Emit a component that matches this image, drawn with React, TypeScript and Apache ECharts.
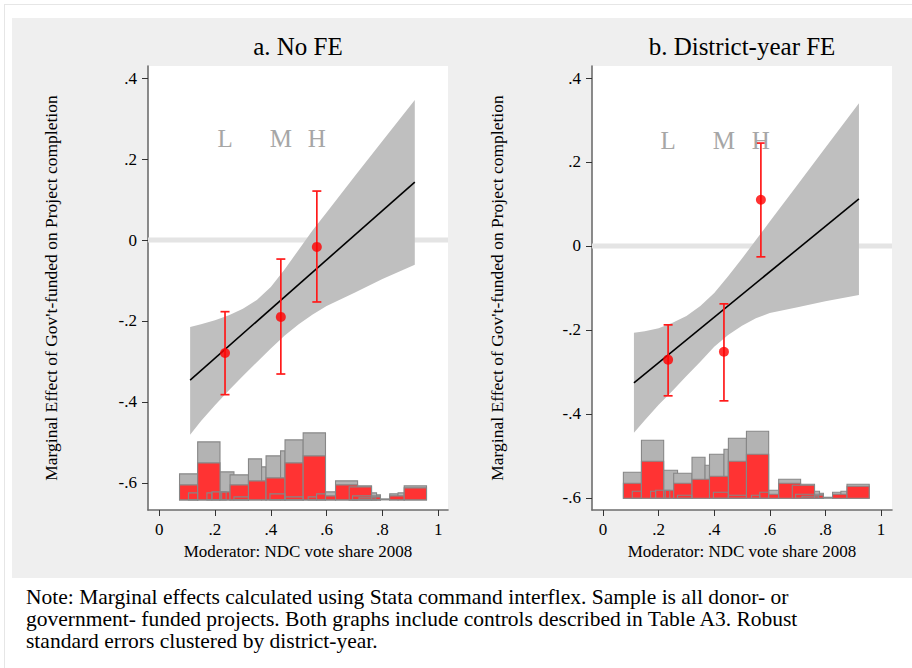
import React, { useEffect, useRef } from "react";
import * as echarts from "echarts";

const FONT = "Liberation Serif, Times New Roman, serif";

// ---- axis ticks ----
const xTicks = [0, 0.2, 0.4, 0.6, 0.8, 1];
const yTicks = [-0.6, -0.4, -0.2, 0, 0.2, 0.4];

// ---- bins L / M / H ----
const binLabels = ["L", "M", "H"];
const binLabelY = 0.252;

// ---- Panel a: No FE ----
const fitAX = [0.111, 0.916];
const fitAY = [-0.346, 0.143];
const bandAX = [0.111, 0.15, 0.2, 0.25, 0.3, 0.35, 0.4, 0.45, 0.5, 0.55, 0.6, 0.7, 0.8, 0.916];
const bandAHi = [-0.215, -0.208, -0.198, -0.186, -0.17, -0.148, -0.116, -0.072, -0.024, 0.024, 0.068, 0.157, 0.245, 0.346];
const bandALo = [-0.481, -0.447, -0.408, -0.371, -0.336, -0.302, -0.268, -0.236, -0.208, -0.184, -0.163, -0.13, -0.096, -0.061];
const binAX = [0.236, 0.436, 0.565];
const estA = [-0.279, -0.19, -0.017];
const ciLoA = [-0.382, -0.331, -0.153];
const ciHiA = [-0.177, -0.047, 0.121];

// ---- Panel b: District-year FE ----
const fitBX = [0.111, 0.921];
const fitBY = [-0.326, 0.112];
const bandBX = [0.111, 0.15, 0.2, 0.25, 0.3, 0.35, 0.4, 0.45, 0.5, 0.55, 0.6, 0.7, 0.8, 0.921];
const bandBHi = [-0.207, -0.203, -0.196, -0.183, -0.167, -0.143, -0.112, -0.072, -0.03, 0.014, 0.058, 0.146, 0.234, 0.34];
const bandBLo = [-0.445, -0.415, -0.378, -0.345, -0.31, -0.276, -0.24, -0.212, -0.19, -0.172, -0.16, -0.146, -0.132, -0.117];
const binBX = [0.234, 0.435, 0.568];
const estB = [-0.271, -0.252, 0.11];
const ciLoB = [-0.357, -0.369, -0.026];
const ciHiB = [-0.188, -0.138, 0.245];

// ---- Histogram of moderator (relative counts) ----
const histGrayLeft = [0.073, 0.138, 0.218, 0.254, 0.32, 0.367, 0.383, 0.435, 0.451, 0.516, 0.596, 0.632, 0.681, 0.761, 0.779, 0.793, 0.826, 0.856, 0.878];
const histGrayRight = [0.138, 0.218, 0.268, 0.32, 0.367, 0.383, 0.435, 0.451, 0.516, 0.596, 0.632, 0.711, 0.761, 0.779, 0.793, 0.826, 0.856, 0.878, 0.958];
const histGrayCount = [26, 58, 28, 25, 41, 33, 44, 49, 60, 67, 8, 19, 14, 7, 5, 1, 6, 7, 14];

const histRedLeft = [0.073, 0.138, 0.218, 0.254, 0.32, 0.383, 0.451, 0.516, 0.596, 0.632, 0.681, 0.761, 0.826, 0.878];
const histRedRight = [0.138, 0.218, 0.254, 0.32, 0.383, 0.451, 0.516, 0.596, 0.632, 0.711, 0.761, 0.793, 0.878, 0.958];
const histRedCount = [15, 37, 8, 15, 19, 22, 37, 44, 4, 15, 13, 3, 4, 12];

const histOutLeft = [0.105, 0.171, 0.189, 0.224, 0.268, 0.397, 0.451, 0.534, 0.564, 0.693, 0.716];
const histOutRight = [0.138, 0.189, 0.218, 0.24, 0.32, 0.451, 0.516, 0.564, 0.596, 0.793, 0.776];
const histOutCount = [7, 7, 8, 8, 3, 6, 3, 3, 6, 4, 2];

const noteLines = [
  "Note: Marginal effects calculated using Stata command interflex. Sample is all donor- or",
  "government- funded projects. Both graphs include controls described in Table A3. Robust",
  "standard errors clustered by district-year.",
];

const fmtTick = (v: number) => {
  const r = Math.round(v * 10) / 10;
  if (r === 0) return "0";
  const s = Math.abs(r).toString().replace(/^0/, "");
  return (r < 0 ? "-" : "") + s;
};

const panels = [
  {
    title: "a. No FE",
    grid: { left: 148, top: 66, width: 300, height: 444 },
    xMin: -0.04, xMax: 1.035, yMin: -0.667, yMax: 0.43,
    fitX: fitAX, fitY: fitAY, bandX: bandAX, bandLo: bandALo, bandHi: bandAHi,
    binX: binAX, est: estA, ciLo: ciLoA, ciHi: ciHiA,
    histBase: -0.642, histUnit: 1 / 405,
    yTitleX: 51,
  },
  {
    title: "b. District-year FE",
    grid: { left: 592, top: 66, width: 300, height: 444 },
    xMin: -0.04, xMax: 1.04, yMin: -0.629, yMax: 0.4286,
    fitX: fitBX, fitY: fitBY, bandX: bandBX, bandLo: bandBLo, bandHi: bandBHi,
    binX: binBX, est: estB, ciLo: ciLoB, ciHi: ciHiB,
    histBase: -0.601, histUnit: 1 / 420,
    yTitleX: 497,
  },
];

function buildOption() {
  const grids: any[] = [];
  const xAxes: any[] = [];
  const yAxes: any[] = [];
  const series: any[] = [];
  const graphics: any[] = [];

  panels.forEach((p, i) => {
    grids.push({
      ...p.grid,
      show: true,
      backgroundColor: "#ffffff",
      borderWidth: 0,
      containLabel: false,
      outerBoundsMode: "none",
    });
    xAxes.push({
      type: "value",
      gridIndex: i,
      min: p.xMin,
      max: p.xMax,
      axisLine: { show: true, onZero: false, lineStyle: { color: "#6e6e6e", width: 1.6 } },
      axisTick: { show: true, customValues: xTicks, length: 6, lineStyle: { color: "#333", width: 1 } },
      axisLabel: { customValues: xTicks, formatter: fmtTick, color: "#000", fontFamily: FONT, fontSize: 17, margin: 11 },
      splitLine: { show: false },
      name: "Moderator: NDC vote share 2008",
      nameLocation: "middle",
      nameGap: 23,
      nameTextStyle: { fontFamily: FONT, fontSize: 17, color: "#000" },
    });
    yAxes.push({
      type: "value",
      gridIndex: i,
      min: p.yMin,
      max: p.yMax,
      axisLine: { show: true, onZero: false, lineStyle: { color: "#6e6e6e", width: 1.6 } },
      axisTick: { show: true, customValues: yTicks, length: 6, lineStyle: { color: "#333", width: 1 } },
      axisLabel: { customValues: yTicks, formatter: fmtTick, color: "#000", fontFamily: FONT, fontSize: 17, margin: 11 },
      splitLine: { show: false },
    });

    const base = p.histBase;
    const unit = p.histUnit;
    const histSeries = (lefts: number[], rights: number[], counts: number[], fill: string) => ({
      type: "custom",
      xAxisIndex: i,
      yAxisIndex: i,
      z: 2,
      silent: true,
      data: lefts.map((l, k) => [l, rights[k], counts[k]]),
      renderItem: (_params: any, api: any) => {
        const x0 = api.value(0);
        const x1 = api.value(1);
        const h = api.value(2);
        const a = api.coord([x0, base]);
        const b = api.coord([x1, base + h * unit]);
        return {
          type: "rect",
          shape: { x: a[0], y: b[1], width: b[0] - a[0], height: a[1] - b[1] },
          style: { fill, stroke: "#878787", lineWidth: 1.1 },
        };
      },
    });

    // zero reference line
    series.push({
      type: "custom",
      xAxisIndex: i,
      yAxisIndex: i,
      z: 1,
      silent: true,
      data: [[0, 0]],
      renderItem: (params: any, api: any) => {
        const cs = params.coordSys;
        const y = api.coord([0, 0])[1];
        return {
          type: "line",
          shape: { x1: cs.x, y1: y, x2: cs.x + cs.width, y2: y },
          style: { stroke: "#e4e4e4", lineWidth: 5 },
        };
      },
    });
    series.push(histSeries(histGrayLeft, histGrayRight, histGrayCount, "#b3b3b3"));
    series.push(histSeries(histRedLeft, histRedRight, histRedCount, "#ff3333"));
    series.push(histSeries(histOutLeft, histOutRight, histOutCount, "rgba(0,0,0,0)"));

    // confidence band
    series.push({
      type: "custom",
      xAxisIndex: i,
      yAxisIndex: i,
      z: 3,
      silent: true,
      data: [[p.bandX[0], p.bandLo[0]]],
      renderItem: (_params: any, api: any) => {
        const pts: number[][] = [];
        for (let k = 0; k < p.bandX.length; k++) pts.push(api.coord([p.bandX[k], p.bandHi[k]]));
        for (let k = p.bandX.length - 1; k >= 0; k--) pts.push(api.coord([p.bandX[k], p.bandLo[k]]));
        return { type: "polygon", shape: { points: pts }, style: { fill: "#bfbfbf" } };
      },
    });

    // fitted line
    series.push({
      type: "line",
      xAxisIndex: i,
      yAxisIndex: i,
      z: 4,
      silent: true,
      symbol: "none",
      data: p.fitX.map((x, k) => [x, p.fitY[k]]),
      lineStyle: { color: "#000", width: 1.6 },
    });

    // error bars
    series.push({
      type: "custom",
      xAxisIndex: i,
      yAxisIndex: i,
      z: 5,
      silent: true,
      data: p.binX.map((x, k) => [x, p.ciLo[k], p.ciHi[k]]),
      renderItem: (_params: any, api: any) => {
        const x = api.value(0);
        const lo = api.coord([x, api.value(1)]);
        const hi = api.coord([x, api.value(2)]);
        const cap = 4.5;
        const st = { stroke: "#ff1a1a", lineWidth: 1.7 };
        return {
          type: "group",
          children: [
            { type: "line", shape: { x1: lo[0], y1: lo[1], x2: hi[0], y2: hi[1] }, style: st },
            { type: "line", shape: { x1: lo[0] - cap, y1: lo[1], x2: lo[0] + cap, y2: lo[1] }, style: st },
            { type: "line", shape: { x1: hi[0] - cap, y1: hi[1], x2: hi[0] + cap, y2: hi[1] }, style: st },
          ],
        };
      },
    });

    // point estimates
    series.push({
      type: "scatter",
      xAxisIndex: i,
      yAxisIndex: i,
      z: 6,
      silent: true,
      symbol: "circle",
      symbolSize: 10,
      itemStyle: { color: "#ff0000" },
      data: p.binX.map((x, k) => [x, p.est[k]]),
    });

    // L M H labels
    series.push({
      type: "custom",
      xAxisIndex: i,
      yAxisIndex: i,
      z: 6,
      silent: true,
      data: p.binX.map((x, k) => [x, binLabelY, k]),
      renderItem: (_params: any, api: any) => {
        const c = api.coord([api.value(0), api.value(1)]);
        return {
          type: "text",
          x: c[0],
          y: c[1],
          style: {
            text: binLabels[api.value(2)],
            align: "center",
            verticalAlign: "middle",
            fontFamily: FONT,
            fontSize: 25,
            fill: "#a6a6a6",
          },
        };
      },
    });

    graphics.push({
      type: "text",
      x: p.grid.left + p.grid.width / 2,
      y: 46,
      style: { text: p.title, align: "center", verticalAlign: "middle", fontFamily: FONT, fontSize: 25, fill: "#000" },
    });
    graphics.push({
      type: "text",
      x: p.yTitleX,
      y: p.grid.top + p.grid.height / 2,
      rotation: Math.PI / 2,
      style: {
        text: "Marginal Effect of Gov't-funded on Project completion",
        align: "center",
        verticalAlign: "middle",
        fontFamily: FONT,
        fontSize: 17.5,
        fill: "#000",
      },
    });
  });

  noteLines.forEach((line, k) => {
    graphics.push({
      type: "text",
      x: 26,
      y: 597 + k * 22,
      style: { text: line, align: "left", verticalAlign: "middle", fontFamily: FONT, fontSize: 21.5, fill: "#000" },
    });
  });

  return {
    animation: false,
    backgroundColor: "transparent",
    textStyle: { fontFamily: FONT },
    grid: grids,
    xAxis: xAxes,
    yAxis: yAxes,
    series,
    graphic: graphics,
  };
}

export default function App() {
  const ref = useRef<HTMLDivElement>(null);
  useEffect(() => {
    if (!ref.current) return;
    const chart = echarts.init(ref.current, undefined, { renderer: "svg" });
    chart.setOption(buildOption() as any);
    return () => chart.dispose();
  }, []);
  return (
    <div style={{ position: "absolute", left: 0, top: 0, width: 912, height: 668, background: "#fff", overflow: "hidden" }}>
      <div style={{ position: "absolute", left: 4, top: 4, width: 908, height: 664, borderLeft: "1px solid #e6e6e6", borderTop: "1px solid #e6e6e6" }} />
      <div style={{ position: "absolute", left: 12, top: 18, width: 900, height: 560, background: "#efefef" }} />
      <div ref={ref} style={{ position: "absolute", left: 0, top: 0, width: 912, height: 668 }} />
    </div>
  );
}
